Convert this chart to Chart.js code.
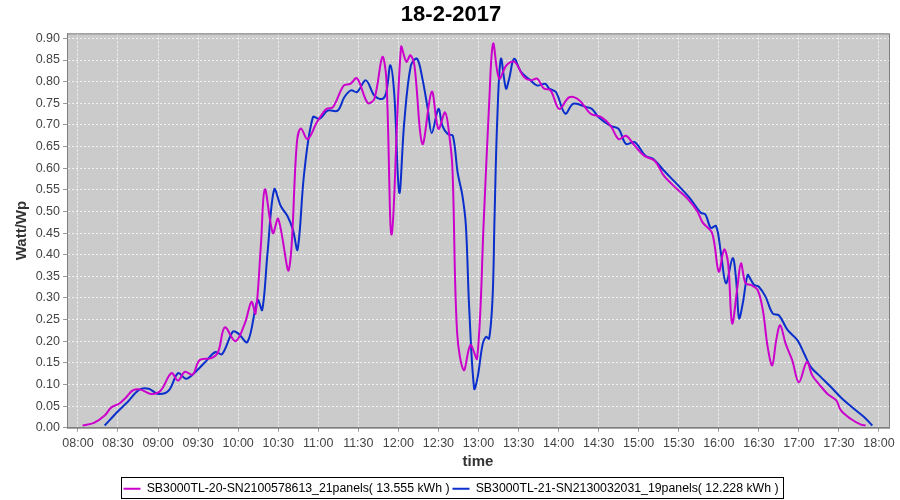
<!DOCTYPE html>
<html>
<head>
<meta charset="utf-8">
<script src="https://cdn.jsdelivr.net/npm/chart.js@4.4.1/dist/chart.umd.min.js"></script>
<style>
  body { margin: 0; background: #fff; }
</style>
</head>
<body>
<canvas id="myChart" width="900" height="500"></canvas>
<script>
// time in minutes since midnight, power in Watt/Wp
var timeMagenta = [483.5, 492, 500, 505, 511, 516, 521, 527, 535, 542, 550, 555, 560, 566, 571, 580, 585, 590, 598, 605,
  610, 613, 617, 620, 626, 630, 638, 644, 647, 652, 659, 666, 671, 679, 684, 689, 697, 702, 708, 711,
  715, 722, 726, 729, 732, 738, 745, 750, 755, 758, 760.5, 764, 769, 774, 779, 784, 788, 791, 795.5, 801,
  807, 814, 819, 824, 829, 834, 840.5, 848, 855.5, 864, 872, 879, 885, 890.5, 897, 904, 912, 919, 929, 937,
  944, 948, 955, 960, 964, 967, 970, 974, 976.6, 980, 984, 989, 993, 996.6, 1000, 1003, 1006, 1010, 1015, 1020,
  1026, 1030, 1035, 1041.5, 1048, 1051.5, 1059, 1066.5, 1070];
var valueMagenta = [0.005, 0.011, 0.028, 0.047, 0.056, 0.07, 0.086, 0.088, 0.078, 0.086, 0.126, 0.109, 0.129, 0.123, 0.156, 0.161, 0.175, 0.232, 0.2, 0.241,
  0.291, 0.264, 0.42, 0.551, 0.45, 0.483, 0.365, 0.66, 0.692, 0.667, 0.706, 0.737, 0.741, 0.791, 0.795, 0.808, 0.751, 0.76, 0.857, 0.807,
  0.447, 0.88, 0.846, 0.861, 0.838, 0.656, 0.777, 0.691, 0.729, 0.68, 0.6, 0.22, 0.133, 0.191, 0.16, 0.481, 0.75, 0.888, 0.807, 0.838,
  0.846, 0.811, 0.803, 0.807, 0.784, 0.78, 0.737, 0.764, 0.757, 0.726, 0.718, 0.698, 0.667, 0.675, 0.652, 0.629, 0.617, 0.582, 0.551, 0.528,
  0.5, 0.474, 0.45, 0.361, 0.412, 0.38, 0.241, 0.326, 0.38, 0.334, 0.33, 0.319, 0.272, 0.187, 0.144, 0.202, 0.237, 0.195, 0.156, 0.105,
  0.152, 0.121, 0.101, 0.078, 0.063, 0.04, 0.02, 0.007, 0.005];

var timeBlue = [500, 510, 517, 526, 533, 540, 548, 555, 561, 568, 576, 583, 588, 596, 600, 607, 614.6, 618, 622, 627,
  632, 637, 641, 644.5, 649.5, 656, 661, 667, 674.5, 679.5, 684.5, 689, 695.7, 702, 708, 711, 714, 717, 720.7, 724.4,
  729.4, 734, 738, 742, 745, 750, 753, 757, 760.8, 764.4, 768, 770.6, 773, 776.8, 779.4, 783, 785.6, 788, 790.6, 792,
  794, 796.8, 800.6, 803, 806.7, 812, 819, 824, 830, 833, 838, 845, 851, 861, 865, 870, 879, 885, 890.5, 897,
  905, 911, 919, 930, 938, 946.6, 950, 954, 958, 961.6, 965.4, 970.4, 973, 975.2, 978, 981.6, 984, 986.5, 990, 995,
  1000.4, 1005, 1011.5, 1019, 1024, 1029, 1036.5, 1044, 1051.5, 1061.5, 1069, 1075];
var valueBlue = [0.005, 0.038, 0.059, 0.088, 0.09, 0.078, 0.086, 0.126, 0.113, 0.129, 0.154, 0.175, 0.17, 0.222, 0.218, 0.198, 0.295, 0.272, 0.404, 0.551,
  0.512, 0.489, 0.458, 0.412, 0.59, 0.718, 0.714, 0.733, 0.733, 0.764, 0.78, 0.776, 0.803, 0.768, 0.76, 0.776, 0.838, 0.768, 0.543, 0.706,
  0.838, 0.853, 0.807, 0.737, 0.681, 0.737, 0.698, 0.679, 0.675, 0.59, 0.536, 0.466, 0.28, 0.09, 0.117, 0.191, 0.21, 0.206, 0.303, 0.481,
  0.706, 0.853, 0.784, 0.807, 0.853, 0.822, 0.803, 0.791, 0.795, 0.784, 0.776, 0.726, 0.749, 0.741, 0.737, 0.718, 0.698, 0.691, 0.656, 0.66,
  0.629, 0.621, 0.594, 0.559, 0.532, 0.497, 0.493, 0.462, 0.466, 0.404, 0.334, 0.392, 0.342, 0.253, 0.288, 0.353, 0.342, 0.33, 0.326, 0.303,
  0.264, 0.26, 0.226, 0.202, 0.171, 0.14, 0.117, 0.094, 0.07, 0.043, 0.024, 0.005];

var seriesNames = ["SB3000TL-20-SN2100578613_21panels( 13.555 kWh )",
                   "SB3000TL-21-SN2130032031_19panels( 12.228 kWh )"];
var yTicks = [0, 0.05, 0.1, 0.15, 0.2, 0.25, 0.3, 0.35, 0.4, 0.45, 0.5, 0.55, 0.6, 0.65, 0.7, 0.75, 0.8, 0.85, 0.9];

function points(t, v) {
  return t.map(function(x, i) { return {x: x, y: v[i]}; });
}

function hhmm(m) {
  var h = Math.floor(m / 60), mm = Math.round(m % 60);
  return (h < 10 ? "0" : "") + h + ":" + (mm < 10 ? "0" : "") + mm;
}

var fontFamily = "'Liberation Sans', Arial, sans-serif";

// gray plot background + frame, box round the legend
var plotFrame = {
  id: 'plotFrame',
  beforeDraw: function(chart) {
    var a = chart.chartArea, c = chart.ctx;
    c.save();
    c.fillStyle = '#cbcbcb';
    c.fillRect(a.left, a.top, a.right - a.left, a.bottom - a.top);
    c.restore();
  },
  afterDraw: function(chart) {
    var a = chart.chartArea, c = chart.ctx;
    c.save();
    c.strokeStyle = '#7f7f7f';
    c.lineWidth = 1;
    c.strokeRect(a.left + 0.5, a.top + 0.5, a.right - a.left, a.bottom - a.top);
    var boxes = chart.legend.legendHitBoxes;
    if (boxes && boxes.length) {
      var l = Math.min.apply(null, boxes.map(function(b) { return b.left; }));
      var r = Math.max.apply(null, boxes.map(function(b) { return b.left + b.width; }));
      var mid = boxes[0].top + boxes[0].height / 2;
      c.strokeStyle = '#000';
      c.strokeRect(Math.round(l) - 2.5, Math.round(mid - 12) + 0.5, Math.round(r - l) + 7, 21);
    }
    c.restore();
  }
};

var ctx = document.getElementById('myChart').getContext('2d');
var myChart = new Chart(ctx, {
  type: 'line',
  data: {
    datasets: [{
      label: seriesNames[0],
      data: points(timeMagenta, valueMagenta),
      borderColor: '#cc00cc',
      backgroundColor: '#cc00cc',
      borderWidth: 2,
      pointRadius: 0,
      tension: 0.35
    }, {
      label: seriesNames[1],
      data: points(timeBlue, valueBlue),
      borderColor: '#0a2fcc',
      backgroundColor: '#0a2fcc',
      borderWidth: 2,
      pointRadius: 0,
      tension: 0.35
    }]
  },
  options: {
    responsive: false,
    animation: false,
    layout: { padding: { left: 13, right: 11, bottom: -5 } },
    plugins: {
      title: {
        display: true,
        text: '18-2-2017',
        color: '#000',
        font: { family: fontFamily, size: 22, weight: 'bold' },
        padding: { top: 2, bottom: 5 }
      },
      legend: {
        position: 'bottom',
        labels: {
          color: '#000',
          font: { family: fontFamily, size: 12.3 },
          usePointStyle: true,
          pointStyle: 'line',
          pointStyleWidth: 17,
          padding: 3
        }
      },
      tooltip: { enabled: false }
    },
    scales: {
      x: {
        type: 'linear',
        min: 471.8,
        max: 1087.5,
        afterFit: function(s) { s.height = 52; },
        ticks: {
          stepSize: 30,
          includeBounds: false,
          color: '#444',
          font: { family: fontFamily, size: 12.5 },
          padding: 4,
          maxRotation: 0,
          callback: function(v) { return hhmm(v); }
        },
        grid: { color: '#f2f2f2', tickColor: '#999', tickLength: 4 },
        border: { color: '#7f7f7f', dash: [2, 2] },
        title: {
          display: true,
          text: 'time',
          color: '#333',
          font: { family: fontFamily, size: 15, weight: 'bold' },
          padding: { top: 0, bottom: 9 }
        }
      },
      y: {
        min: 0,
        max: 0.9116,
        afterFit: function(s) { s.width = 54; },
        afterBuildTicks: function(s) { s.ticks = yTicks.map(function(v) { return {value: v}; }); },
        ticks: {
          color: '#444',
          font: { family: fontFamily, size: 12.5 },
          padding: 3,
          callback: function(v) { return v.toFixed(2); }
        },
        grid: { color: '#f2f2f2', tickColor: '#999', tickLength: 4 },
        border: { color: '#7f7f7f', dash: [2, 2] },
        title: {
          display: true,
          text: 'Watt/Wp',
          color: '#333',
          font: { family: fontFamily, size: 15, weight: 'bold' },
          padding: 0
        }
      }
    }
  },
  plugins: [plotFrame]
});
</script>
</body>
</html>
